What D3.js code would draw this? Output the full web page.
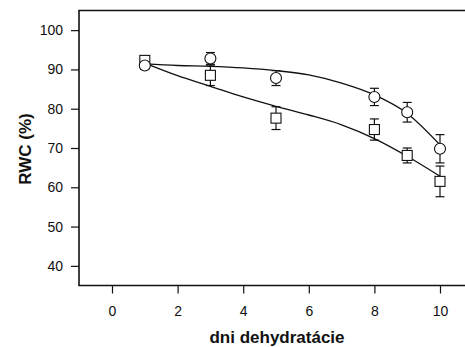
<!DOCTYPE html>
<html>
<head>
<meta charset="utf-8">
<script src="https://cdn.jsdelivr.net/npm/d3@7"></script>
<style>
  html, body { margin: 0; padding: 0; background: #fff; }
  svg { display: block; }
  text { font-family: "Liberation Sans", Arial, sans-serif; fill: #111; }
</style>
</head>
<body>
<svg id="chart" width="465" height="347"></svg>
<script>
// Measured days
const days = [1, 3, 5, 8, 9, 10];

// Circles series: mean RWC and error
const circleMean = [91.0, 92.8, 87.8, 83.0, 79.1, 69.8];
const circleErr  = [1.0, 1.5, 1.9, 2.2, 2.5, 3.6];

// Squares series: mean RWC and error
const squareMean = [92.3, 88.5, 77.6, 74.7, 68.1, 61.5];
const squareErr  = [0.8, 2.6, 2.9, 2.7, 1.9, 3.9];

// Fitted curves sampled along the day axis
const fitDays = [1, 2, 3, 4, 5, 6, 7, 8, 9, 10];
const circleFit = [91.4, 91.0, 90.8, 90.4, 89.7, 88.6, 86.5, 83.5, 78.8, 70.8];
const squareFit = [91.6, 88.4, 85.7, 83.0, 80.6, 78.4, 75.9, 72.4, 67.9, 62.8];

// Tick labels
const xTicks = [0, 2, 4, 6, 8, 10];
const yTicks = [40, 50, 60, 70, 80, 90, 100];

const svg = d3.select("#chart");

const x = d3.scaleLinear().domain([0, 10]).range([112, 440]);
const y = d3.scaleLinear().domain([35, 105]).range([285.5, 10.5]);

const frameLeft = 79, frameRight = 466, frameTop = 10.5, frameBottom = 285.5;

// Frame: top, left and bottom lines
svg.append("path")
  .attr("d", `M${frameRight},${frameTop}H${frameLeft}V${frameBottom}H${frameRight}`)
  .attr("fill", "none").attr("stroke", "#111").attr("stroke-width", 1.6);

// Y axis ticks and labels
const yAxis = svg.append("g").attr("transform", `translate(${frameLeft},0)`)
  .call(d3.axisLeft(y).tickValues(yTicks).tickSize(8).tickSizeOuter(0).tickPadding(8));
yAxis.select(".domain").remove();
yAxis.selectAll(".tick line").attr("stroke", "#111").attr("stroke-width", 1.2);
yAxis.selectAll(".tick text").style("font-size", "14px")
  .style("font-family", "Liberation Sans, Arial, sans-serif").attr("fill", "#111");

// X axis ticks and labels
const xAxis = svg.append("g").attr("transform", `translate(0,${frameBottom})`)
  .call(d3.axisBottom(x).tickValues(xTicks).tickSize(8).tickSizeOuter(0).tickPadding(13));
xAxis.select(".domain").remove();
xAxis.selectAll(".tick line").attr("stroke", "#111").attr("stroke-width", 1.2);
xAxis.selectAll(".tick text").style("font-size", "14px")
  .style("font-family", "Liberation Sans, Arial, sans-serif").attr("fill", "#111");

// Axis titles
svg.append("text")
  .attr("x", 277).attr("y", 343)
  .attr("text-anchor", "middle")
  .style("font-size", "17px").style("font-weight", "bold")
  .text("dni dehydratácie");

svg.append("text")
  .attr("transform", "translate(31,149) rotate(-90)")
  .attr("text-anchor", "middle")
  .style("font-size", "17px").style("font-weight", "bold")
  .text("RWC (%)");

// Fitted curves
const line = d3.line()
  .x((d, i) => x(fitDays[i]))
  .y(d => y(d))
  .curve(d3.curveMonotoneX);

[circleFit, squareFit].forEach(fit => {
  svg.append("path")
    .attr("d", line(fit))
    .attr("fill", "none")
    .attr("stroke", "#111")
    .attr("stroke-width", 1.3);
});

// Error bars
function errorBars(means, errs) {
  const g = svg.append("g").attr("stroke", "#111").attr("stroke-width", 1.2);
  days.forEach((d, i) => {
    const cx = x(d);
    const y1 = y(means[i] + errs[i]);
    const y2 = y(means[i] - errs[i]);
    g.append("line").attr("x1", cx).attr("x2", cx).attr("y1", y1).attr("y2", y2);
    g.append("line").attr("x1", cx - 4.5).attr("x2", cx + 4.5).attr("y1", y1).attr("y2", y1);
    g.append("line").attr("x1", cx - 4.5).attr("x2", cx + 4.5).attr("y1", y2).attr("y2", y2);
  });
}
errorBars(squareMean, squareErr);
errorBars(circleMean, circleErr);

// Square markers
svg.append("g").selectAll("rect")
  .data(squareMean)
  .join("rect")
  .attr("x", (d, i) => x(days[i]) - 5)
  .attr("y", d => y(d) - 5)
  .attr("width", 10).attr("height", 10)
  .attr("fill", "#fff").attr("stroke", "#111").attr("stroke-width", 1.1);

// Circle markers
svg.append("g").selectAll("circle")
  .data(circleMean)
  .join("circle")
  .attr("cx", (d, i) => x(days[i]))
  .attr("cy", d => y(d))
  .attr("r", 5.5)
  .attr("fill", "#fff").attr("stroke", "#111").attr("stroke-width", 1.1);
</script>
</body>
</html>
